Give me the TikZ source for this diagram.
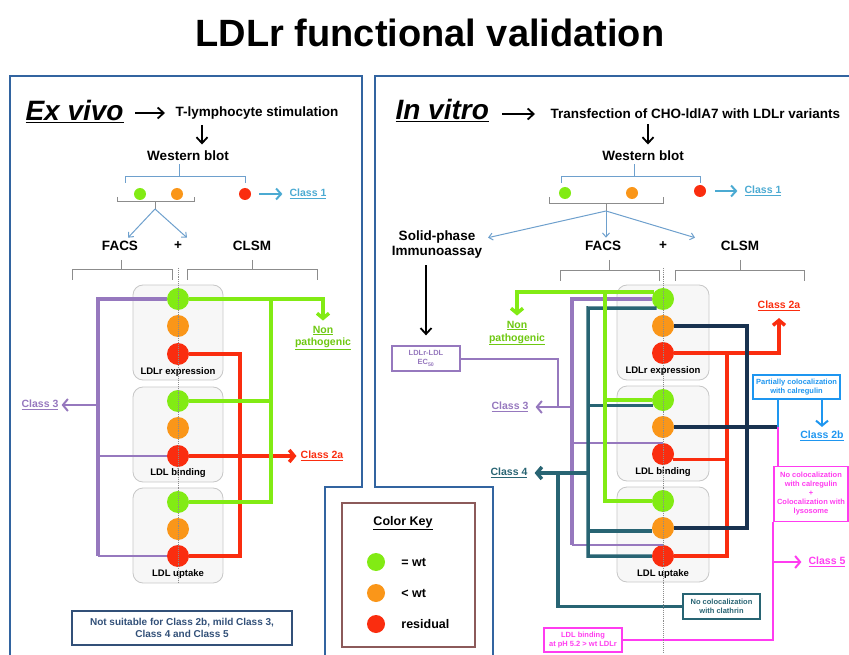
\documentclass[tikz,border=0pt]{standalone}
\usepackage{fontspec}
\setmainfont{Liberation Sans}
\usetikzlibrary{arrows.meta, positioning}

\definecolor{cwt}{RGB}{130,235,20}
\definecolor{clow}{RGB}{250,150,25}
\definecolor{cres}{RGB}{250,45,15}
\definecolor{cpur}{RGB}{150,120,190}
\definecolor{cteal}{RGB}{40,100,115}
\definecolor{cnavy}{RGB}{25,50,80}
\definecolor{csky}{RGB}{75,170,210}
\definecolor{cwb}{RGB}{110,160,205}
\definecolor{cframe}{RGB}{50,100,160}
\definecolor{ckey}{RGB}{140,90,90}
\definecolor{cdodger}{RGB}{30,150,240}
\definecolor{cpink}{RGB}{255,60,240}
\definecolor{cnote}{RGB}{50,80,120}

\begin{document}
\begin{tikzpicture}[
    x=1pt, y=-1pt,
    title/.style={font=\fontsize{38}{44}\selectfont\bfseries},
    heading/.style={anchor=base west, font=\fontsize{28}{32}\selectfont\bfseries\itshape},
    txt/.style={align=center, font=\fontsize{13.5}{15}\selectfont\bfseries},
    cls/.style={align=center, inner sep=1pt, font=\fontsize{10.5}{13}\selectfont\bfseries},
    boxlbl/.style={font=\fontsize{9.5}{11}\selectfont\bfseries},
    keytxt/.style={inner sep=2pt, font=\fontsize{12.5}{14}\selectfont\bfseries},
    panel/.style={draw=cframe, line width=1.8pt},
    assay/.style={rectangle, rounded corners=10pt, draw=black!22, fill=black!3, line width=0.8pt, minimum width=90pt, minimum height=95pt},
    blob/.style={circle, minimum size=22pt, inner sep=0pt},
    sblob/.style={circle, minimum size=12pt, inner sep=0pt},
    infobox/.style={rectangle, draw, fill=white, line width=1.3pt, align=center, inner sep=1pt, font=\fontsize{7.5}{9}\selectfont\bfseries},
    notebox/.style={draw=cnote, line width=1.3pt, text=cnote, align=center, minimum width=220pt, minimum height=34pt, font=\fontsize{10}{12.5}\selectfont\bfseries},
    keybox/.style={draw=ckey, line width=1.3pt, minimum width=133pt, minimum height=144pt},
    brk/.style={draw=black!45, line width=1pt},
    wbline/.style={draw=cwb, line width=1pt},
    wbarrow/.style={wbline, -{Straight Barb[length=4pt, width=7pt]}},
    bigarrow/.style={line width=1.8pt, -{Straight Barb[length=6pt, width=11pt]}},
    c1arrow/.style={draw=csky, line width=2pt, -{Straight Barb[length=5pt, width=11pt]}},
    spine/.style={draw=black!45, line width=0.9pt, densely dotted},
    wire/.style={line width=3.5pt},
    slim/.style={line width=2pt},
    headed/.style={-{Straight Barb[length=5pt, width=12pt]}}
]
\useasboundingbox (0,0) rectangle (849,655);

% Title
\node[title] (title) at (430,33) {LDLr functional validation};

% Panels
\draw[panel] (10,655) -- (10,76) -- (362,76) -- (362,487) -- (325,487) -- (325,655);
\draw[panel] (849,76) -- (375,76) -- (375,487) -- (493,487) -- (493,655);

% ---------------- Ex vivo ----------------
\node[heading] (exv) at (22,121) {\underline{Ex vivo}};
\node[txt, anchor=west] (tstim) at (172,113) {T-lymphocyte stimulation};
\draw[bigarrow, shorten <=8pt, shorten >=7pt] (tstim.west -| exv.east) -- (tstim.west);
\node[txt] (lwb) at (188,156) {Western blot};
\draw[bigarrow, shorten <=2pt, shorten >=3pt] (tstim.south -| 202,0) -- (lwb.north -| 202,0);

% western blot result
\draw[wbline] (lwb.south -| 179,0) -- (179,177) (125,183) |- (245,177) -- (245,183);
\node[sblob, fill=cwt] (lwg) at (140,194) {};
\node[sblob, fill=clow] (lwo) at (177,194) {};
\node[sblob, fill=cres] (lwr) at (245,194) {};
\node[cls, text=csky] (lc1) at (308,194) {\underline{Class 1}};
\draw[c1arrow, shorten <=8pt, shorten >=6pt] (lwr) -- (lc1);
\coordinate (lsplit) at (155,209);
\draw[brk] (117,197) |- (194,202) -- (194,197) (155,202) -- (lsplit);

% FACS + CLSM
\node[txt] (lfacs) at (120,246) {FACS};
\node[txt] (lplus) at (178,246) {+};
\node[txt] (lclsm) at (252,246) {CLSM};
\draw[wbarrow] (lsplit) -- (lfacs.north -| 128,0);
\draw[wbarrow] (lsplit) -- (lfacs.north -| 187,0);
\draw[brk] (121,260) -- (121,270) (72,280) |- (172,270) -- (172,280);
\draw[brk] (252,260) -- (252,270) (187,280) |- (317,270) -- (317,280);

% assays
\node[assay] (lbox1) at (178,332.5) {};
\node[assay] (lbox2) at (178,434.5) {};
\node[assay] (lbox3) at (178,535.5) {};
\node[boxlbl] (llbl1) at (178,372) {LDLr expression};
\node[boxlbl] (llbl2) at (178,473) {LDL binding};
\node[boxlbl] (llbl3) at (178,574) {LDL uptake};
\node[blob, fill=cwt] (lg1) at (178,299) {};
\node[blob, fill=clow] (lo1) at (178,326) {};
\node[blob, fill=cres] (lr1) at (178,354) {};
\node[blob, fill=cwt] (lg2) at (178,401) {};
\node[blob, fill=clow] (lo2) at (178,428) {};
\node[blob, fill=cres] (lr2) at (178,456) {};
\node[blob, fill=cwt] (lg3) at (178,502) {};
\node[blob, fill=clow] (lo3) at (178,529) {};
\node[blob, fill=cres] (lr3) at (178,556) {};

% class 3
\coordinate (lpt) at (98,299);
\node[cls, text=cpur] (lc3) at (40,405) {\underline{Class 3}};
\draw[cpur, wire] (lg1) -- (lpt) -- (lpt |- lr3);
\draw[cpur, slim] (lr2) -- (lr2 -| lpt) (lr3) -- (lr3 -| lpt);
\draw[cpur, slim, headed, shorten >=2pt] (lpt |- lc3) -- (lc3.east);

% class 2a
\coordinate (lrt) at (240,354);
\node[cls, text=cres] (lc2a) at (322,456) {\underline{Class 2a}};
\draw[cres, wire] (lr1) -- (lrt) |- (lr3);
\draw[cres, wire, headed, shorten >=3pt] (lr2) -- (lc2a);

% non pathogenic
\coordinate (lgt) at (271,299);
\node[cls, text=cwt!85!black] (lnp) at (323,338) {\underline{Non}\\\underline{pathogenic}};
\draw[cwt, wire, headed, shorten >=4pt] (lg1) -| (lnp.north);
\draw[cwt, wire] (lgt) |- (lg3) (lg2) -- (lg2 -| lgt);

\draw[spine] (178,268) -- (178,583);
\node[notebox] (lnote) at (182,628) {Not suitable for Class 2b, mild Class 3,\\Class 4 and Class 5};

% ---------------- In vitro ----------------
\node[heading] (inv) at (392,120) {\underline{In vitro}};
\node[txt, anchor=west] (trans) at (547,114) {Transfection of CHO-ldlA7 with LDLr variants};
\draw[bigarrow, shorten <=10pt, shorten >=12pt] (trans.west -| inv.east) -- (trans.west);
\node[txt] (rwb) at (643,156) {Western blot};
\draw[bigarrow, shorten <=2pt, shorten >=3pt] (trans.south -| 648,0) -- (rwb.north -| 648,0);

% western blot result
\draw[wbline] (rwb.south -| 634,0) -- (634,177) (561,183) |- (700,177) -- (700,183);
\node[sblob, fill=cwt] (rwg) at (565,193) {};
\node[sblob, fill=clow] (rwo) at (632,193) {};
\node[sblob, fill=cres] (rwr) at (700,191) {};
\node[cls, text=csky] (rc1) at (763,191) {\underline{Class 1}};
\draw[c1arrow, shorten <=9pt, shorten >=6pt] (rwr) -- (rc1);
\coordinate (rsplit) at (606,211);
\draw[brk] (549,197) |- (663,204) -- (663,197) (606,204) -- (rsplit);

% assay methods
\node[txt] (solid) at (437,245) {Solid-phase\\Immunoassay};
\node[txt] (rfacs) at (603,246) {FACS};
\node[txt] (rplus) at (663,246) {+};
\node[txt] (rclsm) at (740,246) {CLSM};
\draw[wbarrow] (rsplit) -- (rfacs.north -| 488,0);
\draw[wbarrow] (rsplit) -- (rfacs.north -| rsplit);
\draw[wbarrow] (rsplit) -- (rclsm.north -| 695,0);
\draw[brk] (609,260) -- (609,271) (560,281) |- (659,271) -- (659,281);
\draw[brk] (740,260) -- (740,271) (675,281) |- (804,271) -- (804,281);
\node[infobox, draw=cpur, text=cpur, minimum width=68pt, minimum height=25pt] (ec) at (426,358.5) {LDLr-LDL\\EC\textsubscript{50}};
\draw[bigarrow, shorten <=3pt, shorten >=10pt] (solid.south -| ec) -- (ec.north);

% assays
\node[assay, minimum width=92pt] (rbox1) at (663,332.5) {};
\node[assay, minimum width=92pt] (rbox2) at (663,433.5) {};
\node[assay, minimum width=92pt] (rbox3) at (663,534.5) {};
\node[boxlbl] (rlbl1) at (663,371) {LDLr expression};
\node[boxlbl] (rlbl2) at (663,472) {LDL binding};
\node[boxlbl] (rlbl3) at (663,574) {LDL uptake};
\node[blob, fill=cwt] (rg1) at (663,299) {};
\node[blob, fill=clow] (ro1) at (663,326) {};
\node[blob, fill=cres] (rr1) at (663,353) {};
\node[blob, fill=cwt] (rg2) at (663,400) {};
\node[blob, fill=clow] (ro2) at (663,427) {};
\node[blob, fill=cres] (rr2) at (663,454) {};
\node[blob, fill=cwt] (rg3) at (663,501) {};
\node[blob, fill=clow] (ro3) at (663,528) {};
\node[blob, fill=cres] (rr3) at (663,556) {};

% class 3
\coordinate (rpt) at (572,299);
\coordinate (rj3) at (558,407);
\node[cls, text=cpur] (rc3) at (510,407) {\underline{Class 3}};
\draw[cpur, wire] (rg1) -- (rpt) -- (rpt |- rr3.north);
\draw[cpur, slim] (rr2.north) -- (rr2.north -| rpt) (rr3.north) -- (rr3.north -| rpt);
\draw[cpur, slim, headed, shorten >=6pt] (rpt |- rc3) -- (rc3.east);
\draw[cpur, slim] (ec) -| (rj3);

% class 4
\coordinate (rtt) at (588,308);
\coordinate (rj4) at (558,473);
\node[cls, text=cteal] (rc4) at (509,473) {\underline{Class 4}};
\node[infobox, draw=cteal, text=cteal, minimum width=77pt, minimum height=25pt] (clath) at (721.5,606.5) {No colocalization\\with clathrin};
\draw[cteal, wire] (rg1.-125) -- (rtt) |- (rr3);
\draw[cteal, wire] (rg2.-150) -- (rg2.-150 -| rtt) (ro3.-165) -- (ro3.-165 -| rtt);
\draw[cteal, wire, headed, shorten >=6pt] (rtt |- rc4) -- (rc4.east);
\draw[cteal, wire] (rj4) |- (clath);

% non pathogenic
\coordinate (rgt) at (605,292);
\node[cls, text=cwt!85!black] (rnp) at (517,333) {\underline{Non}\\\underline{pathogenic}};
\draw[cwt, wire, headed, shorten >=4pt] (rg1.140) -| (rnp.north);
\draw[cwt, wire] (rgt) |- (rg3) (rg2) -- (rg2 -| rgt);

% class 2a
\coordinate (rrt) at (727,353);
\node[cls, text=cres] (rc2a) at (779,306) {\underline{Class 2a}};
\draw[cres, wire] (rr1) -- (rrt) |- (rr3) (rr2.-30) -- (rr2.-30 -| rrt);
\draw[cres, wire, headed, shorten >=6pt] (rrt) -| (rc2a.south);

% class 2b and class 5
\coordinate (rnt) at (747,326);
\coordinate (jn) at (778,427);
\draw[cnavy, wire] (ro1) -- (rnt) |- (ro3) (ro2) -- (jn);
\node[infobox, draw=cdodger, text=cdodger, minimum width=87pt, minimum height=24pt] (partial) at (796.5,387) {Partially colocalization\\with calregulin};
\node[cls, text=cdodger] (rc2b) at (822,436) {\underline{Class 2b}};
\draw[cdodger, slim] (jn) -- (jn |- partial.south);
\draw[cdodger, slim, headed, shorten >=3pt] (partial.south -| rc2b) -- (rc2b.north);
\node[infobox, draw=cpink, text=cpink, minimum width=74pt, minimum height=55pt] (nocal) at (811,494) {No colocalization\\with calregulin\\+\\Colocalization with\\lysosome};
\draw[cpink, slim] (jn) -- (jn |- nocal.north);
\node[infobox, draw=cpink, text=cpink, minimum width=78pt, minimum height=24pt] (ph) at (583,640) {LDL binding\\at pH 5.2 > wt LDLr};
\draw[cpink, slim] (nocal.south west) |- (ph);
\node[cls, text=cpink] (rc5) at (827,562) {\underline{Class 5}};
\draw[cpink, slim, headed, shorten >=6pt] (nocal.west |- rc5) -- (rc5.west);

\draw[spine] (663,268) -- (663,652);

% ---------------- Color key ----------------
\node[keybox] (key) at (408.5,575) {};
\node[txt, font=\fontsize{12.5}{14}\selectfont\bfseries] (keyt) at (403,523) {\underline{Color Key}};
\node[blob, minimum size=18pt, fill=cwt] (kg) at (376,562) {};
\node[blob, minimum size=18pt, fill=clow] (ko) at (376,593) {};
\node[blob, minimum size=18pt, fill=cres] (kr) at (376,624) {};
\node[keytxt, right=14pt of kg] (kgt) {= wt};
\node[keytxt, right=14pt of ko] (kot) {< wt};
\node[keytxt, right=14pt of kr] (krt) {residual};

\end{tikzpicture}
\end{document}
